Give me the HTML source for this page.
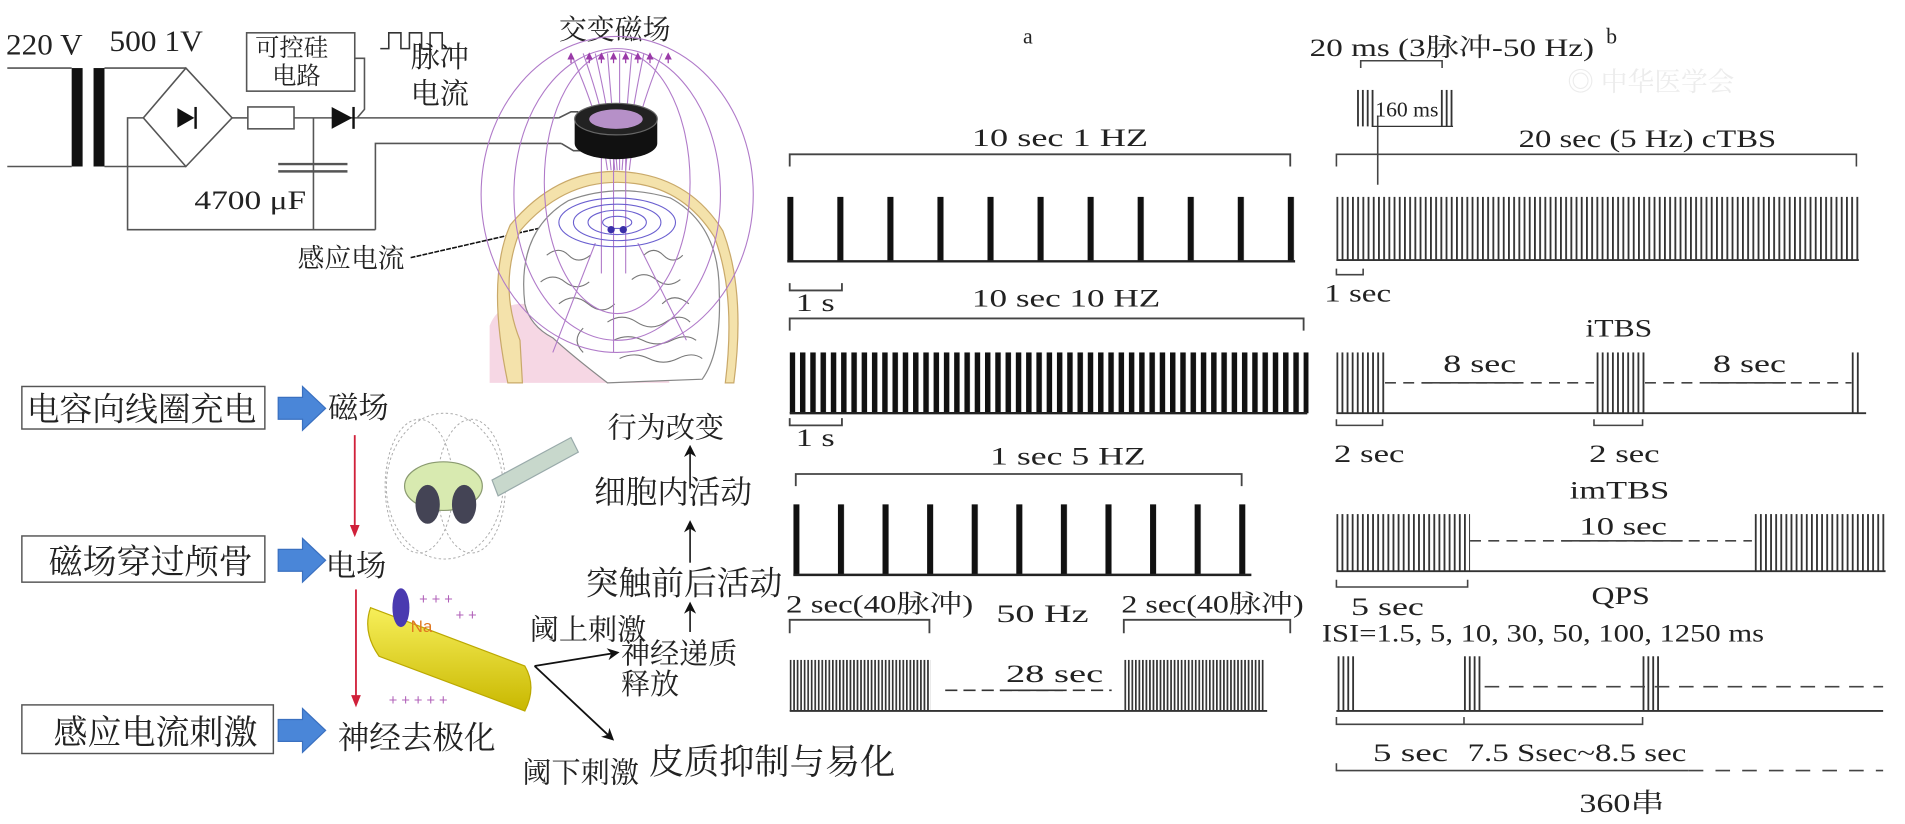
<!DOCTYPE html>
<html><head><meta charset="utf-8">
<style>
html,body{margin:0;padding:0;background:#fff;}
svg{display:block}
.s{font-family:"Liberation Serif","Noto Serif CJK SC",serif;fill:#222}
.c{font-family:"Liberation Serif","Noto Serif CJK SC",serif;fill:#222}
</style></head>
<body>
<svg width="1905" height="824" viewBox="0 0 1568 678" preserveAspectRatio="none" xmlns="http://www.w3.org/2000/svg">
<defs>
<pattern id="p1" x="648" y="0" width="41.2" height="700" patternUnits="userSpaceOnUse"><rect x="0" y="0" width="5" height="700" fill="#111"/></pattern>
<pattern id="p2" x="650" y="0" width="8.46" height="700" patternUnits="userSpaceOnUse"><rect x="0" y="0" width="4.5" height="700" fill="#111"/></pattern>
<pattern id="p3" x="653" y="0" width="36.7" height="700" patternUnits="userSpaceOnUse"><rect x="0" y="0" width="5" height="700" fill="#111"/></pattern>
<pattern id="p4" x="650" y="0" width="2.9" height="700" patternUnits="userSpaceOnUse"><rect x="0" y="0" width="1.4" height="700" fill="#333"/></pattern>
<pattern id="p5" x="1100" y="0" width="4.28" height="700" patternUnits="userSpaceOnUse"><rect x="0" y="0" width="1.5" height="700" fill="#333"/></pattern>
<pattern id="p6" x="1100" y="0" width="4.2" height="700" patternUnits="userSpaceOnUse"><rect x="0" y="0" width="1.5" height="700" fill="#333"/></pattern>
<marker id="ab" markerWidth="10" markerHeight="10" refX="8" refY="5" orient="auto" markerUnits="userSpaceOnUse"><path d="M0,0 L10,5 L0,10 L3,5 z" fill="#111"/></marker>
<marker id="ar" markerWidth="10" markerHeight="10" refX="8" refY="5" orient="auto" markerUnits="userSpaceOnUse"><path d="M0,1 L10,5 L0,9 z" fill="#d0203a"/></marker>
<marker id="am" markerWidth="6" markerHeight="6" refX="5" refY="3" orient="auto" markerUnits="userSpaceOnUse"><path d="M0,0 L6,3 L0,6 z" fill="#9a3aa8"/></marker>
<linearGradient id="yel" x1="0" y1="0" x2="0" y2="1"><stop offset="0" stop-color="#f7ef5a"/><stop offset="1" stop-color="#c9b800"/></linearGradient>
</defs>

<!-- ========== Circuit ========== -->
<g fill="none" stroke="#555" stroke-width="1.3">
<line x1="6" y1="56" x2="59" y2="56"/><line x1="6" y1="137" x2="59" y2="137"/>
<line x1="86" y1="56" x2="153" y2="56"/><line x1="86" y1="137" x2="153" y2="137"/>
<path d="M153,56 L191,97 L153,137 L118,97 Z"/>
<polyline points="118,97 105,97 105,189 309,189"/>
<line x1="191" y1="97" x2="204" y2="97"/>
<rect x="204" y="88" width="38" height="18"/>
<line x1="242" y1="97" x2="460" y2="97"/>
<line x1="258" y1="97" x2="258" y2="189"/>
<polyline points="309,189 309,118 462,118"/>
<rect x="203" y="27" width="89" height="48"/>
<polyline points="292,48 300,48 300,90 294,97"/>
<polyline points="313,40 320,40 320,27 330,27 330,40 337,40 337,27 347,27 347,40 354,40 354,27 364,27 364,40 372,40" stroke="#333"/>
<polyline points="460,97 470,92 476,92"/><polyline points="462,118 472,124 478,124"/>
</g>
<rect x="59" y="56" width="9" height="81" fill="#111"/>
<rect x="77" y="56" width="9" height="81" fill="#111"/>
<path d="M146,89 L160,97 L146,105 Z" fill="#111"/><line x1="161" y1="88" x2="161" y2="106" stroke="#111" stroke-width="2"/>
<path d="M273,88 L290,97 L273,106 Z" fill="#111"/><line x1="291" y1="88" x2="291" y2="106" stroke="#111" stroke-width="2"/>
<line x1="229" y1="135" x2="286" y2="135" stroke="#555" stroke-width="2"/>
<line x1="229" y1="141" x2="286" y2="141" stroke="#555" stroke-width="2"/>
<text class="s" x="5" y="45" font-size="24" textLength="63" lengthAdjust="spacingAndGlyphs">220 V</text>
<text class="s" x="90" y="42" font-size="24" textLength="77" lengthAdjust="spacingAndGlyphs">500 1V</text>
<text class="c" x="210" y="46" font-size="20">可控硅</text>
<text class="c" x="224" y="69" font-size="20">电路</text>
<text class="c" x="338" y="55" font-size="24">脉冲</text>
<text class="c" x="338" y="85" font-size="24">电流</text>
<text class="c" x="460" y="32" font-size="23">交变磁场</text>
<text class="s" x="160" y="172" font-size="22" textLength="92" lengthAdjust="spacingAndGlyphs">4700 μF</text>
<text class="c" x="245" y="220" font-size="22">感应电流</text>
<line x1="338" y1="212" x2="478" y2="180" stroke="#111" stroke-width="1.3" stroke-dasharray="4,1"/>

<!-- ========== Head ========== -->
<g>
<path d="M403,315 L403,268 Q410,250 430,250 L535,250 L551,315 Z" fill="#f6d7e4"/>
<path d="M418,315 Q400,230 420,185 Q458,140 508,141 Q566,143 595,190 Q614,240 604,315 L597,315 Q606,242 588,195 Q560,150 508,150 Q462,150 428,190 Q410,235 428,280 L430,315 Z" fill="#f4e2ab" stroke="#c9a96a" stroke-width="1"/>
<path d="M432,250 Q425,190 468,165 Q508,150 552,163 Q592,185 592,240 Q594,290 578,312 L500,315 Q470,292 455,278 Q436,268 432,250 Z" fill="#fff" stroke="#888" stroke-width="1"/>
<g fill="none" stroke="#777" stroke-width="0.9">
<path d="M450,210 q10,-8 18,0 t18,0"/><path d="M445,232 q10,-8 20,0 t20,0"/><path d="M460,250 q12,-10 24,0 t22,0"/>
<path d="M520,230 q10,-8 20,0 t20,0"/><path d="M530,210 q8,-8 16,0 t16,0"/><path d="M500,265 q12,-8 24,0 t24,0 t20,0"/>
<path d="M505,280 q12,-6 24,0 t24,0 t20,0"/><path d="M510,295 q12,-6 24,0 t24,0 t20,0"/>
<path d="M480,270 q-10,10 0,20"/><path d="M545,250 q10,-10 22,0"/>
</g>
<g fill="none" stroke="#b07ac9" stroke-width="0.9">
<ellipse cx="508" cy="160" rx="85" ry="120"/>
<ellipse cx="508" cy="160" rx="112" ry="130"/>
<ellipse cx="508" cy="150" rx="60" ry="108"/>
<path d="M470,44 Q495,100 500,140"/><path d="M480,44 Q500,100 503,140"/><path d="M490,44 Q503,100 506,140"/>
<path d="M500,44 L508,140"/><path d="M510,44 L510,140"/><path d="M520,44 Q515,100 512,140"/>
<path d="M530,44 Q518,100 515,140"/><path d="M545,44 Q522,100 518,140"/>
<line x1="495" y1="130" x2="495" y2="225" /><line x1="505" y1="130" x2="505" y2="290"/><line x1="515" y1="130" x2="515" y2="225"/>
<line x1="490" y1="200" x2="455" y2="290"/><line x1="525" y1="200" x2="565" y2="280"/>
</g>
<g fill="none" stroke="#6a5fd0" stroke-width="0.9">
<ellipse cx="508" cy="183" rx="48" ry="20"/><ellipse cx="508" cy="183" rx="36" ry="15"/><ellipse cx="508" cy="183" rx="24" ry="10"/><ellipse cx="508" cy="183" rx="12" ry="5"/>
</g>
<circle cx="503" cy="189" r="3" fill="#3a2fa8"/><circle cx="513" cy="189" r="3" fill="#3a2fa8"/>
<g stroke="#9a3aa8" stroke-width="1" marker-end="url(#am)">
<line x1="470" y1="52" x2="470" y2="44"/><line x1="485" y1="52" x2="485" y2="44"/><line x1="495" y1="52" x2="495" y2="44"/><line x1="505" y1="52" x2="505" y2="44"/><line x1="515" y1="52" x2="515" y2="44"/><line x1="525" y1="52" x2="525" y2="44"/><line x1="535" y1="52" x2="535" y2="44"/><line x1="550" y1="52" x2="550" y2="44"/>
</g>
<path d="M473,98 L473,118 A34,13 0 0 0 541,118 L541,98 Z" fill="#111"/>
<ellipse cx="507" cy="98" rx="34" ry="13" fill="#222" stroke="#666"/>
<ellipse cx="507" cy="98" rx="22" ry="8" fill="#b690c8"/>
</g>

<!-- ========== Lower left flow ========== -->
<g fill="#fff" stroke="#555" stroke-width="1.2">
<rect x="18" y="318" width="200" height="35"/>
<rect x="18" y="441" width="200" height="38"/>
<rect x="18" y="580" width="207" height="40"/>
</g>
<text class="c" x="22" y="346" font-size="27">电容向线圈充电</text>
<text class="c" x="40" y="472" font-size="28">磁场穿过颅骨</text>
<text class="c" x="44" y="612" font-size="28">感应电流刺激</text>
<g fill="#4a86d8" stroke="#3a70c0" stroke-width="1">
<path d="M229,327 L249,327 L249,318 L268,336 L249,354 L249,345 L229,345 Z"/>
<path d="M229,452 L249,452 L249,443 L268,461 L249,479 L249,470 L229,470 Z"/>
<path d="M229,592 L249,592 L249,583 L268,601 L249,619 L249,610 L229,610 Z"/>
</g>
<text class="c" x="270" y="344" font-size="25">磁场</text>
<text class="c" x="268" y="474" font-size="25">电场</text>
<text class="c" x="278" y="616" font-size="26">神经去极化</text>
<line x1="292" y1="358" x2="292" y2="440" stroke="#d0203a" stroke-width="1.5" marker-end="url(#ar)"/>
<line x1="293" y1="485" x2="293" y2="580" stroke="#d0203a" stroke-width="1.5" marker-end="url(#ar)"/>
<!-- coil picture -->
<g fill="none" stroke="#aaa" stroke-width="0.8" stroke-dasharray="2,2">
<ellipse cx="345" cy="400" rx="28" ry="55"/><ellipse cx="388" cy="400" rx="28" ry="55"/><ellipse cx="366" cy="400" rx="48" ry="60"/>
</g>
<path d="M405,395 L470,360 L476,372 L410,408 Z" fill="#c8d8cc" stroke="#9aa" stroke-width="1"/>
<ellipse cx="365" cy="400" rx="32" ry="20" fill="#d8eab0" stroke="#8a9a70"/>
<ellipse cx="352" cy="415" rx="10" ry="16" fill="#445"/><ellipse cx="382" cy="415" rx="10" ry="16" fill="#445"/>
<!-- axon -->
<g fill="#b060b8" font-size="12" font-family="Liberation Sans,sans-serif"><text x="345" y="497">+ + +</text><text x="375" y="510">+ +</text><text x="320" y="580">+ + + + +</text></g>
<path d="M305,500 L432,548 Q442,565 432,585 L312,540 Q298,520 305,500 Z" fill="url(#yel)" stroke="#bba800"/>
<ellipse cx="330" cy="500" rx="7" ry="16" fill="#4a3ab0"/>
<text x="338" y="520" font-size="14" fill="#e07820" font-family="Liberation Sans,sans-serif">Na</text>
<line x1="440" y1="548" x2="508" y2="537" stroke="#111" stroke-width="1.5" marker-end="url(#ab)"/>
<line x1="440" y1="548" x2="504" y2="608" stroke="#111" stroke-width="1.5" marker-end="url(#ab)"/>
<text class="c" x="500" y="360" font-size="24">行为改变</text>
<text class="c" x="489" y="414" font-size="26">细胞内活动</text>
<text class="c" x="482" y="489" font-size="27">突触前后活动</text>
<text class="c" x="436" y="526" font-size="24">阈上刺激</text>
<text class="c" x="511" y="546" font-size="24">神经递质</text>
<text class="c" x="511" y="571" font-size="24">释放</text>
<text class="c" x="430" y="644" font-size="24">阈下刺激</text>
<text class="c" x="534" y="637" font-size="29">皮质抑制与易化</text>
<g stroke="#111" stroke-width="1.3" marker-end="url(#ab)">
<line x1="568" y1="402" x2="568" y2="368"/>
<line x1="568" y1="463" x2="568" y2="430"/>
<line x1="568" y1="520" x2="568" y2="497"/>
</g>

<!-- ========== Panel a ========== -->
<text class="s" x="842" y="36" font-size="18">a</text>
<g fill="none" stroke="#444" stroke-width="1.5">
<polyline points="650,137 650,127 1062,127 1062,137"/>
<polyline points="650,233 650,239 693,239 693,233"/>
<polyline points="650,272 650,262 1073,262 1073,272"/>
<polyline points="650,344 650,350 693,350 693,344"/>
<polyline points="655,400 655,390 1022,390 1022,400"/>
<polyline points="650,521 650,510 765,510 765,521"/>
<polyline points="925,521 925,510 1062,510 1062,521"/>
</g>
<text class="s" x="800" y="120" font-size="21" textLength="145" lengthAdjust="spacingAndGlyphs">10 sec    1 HZ</text>
<text class="s" x="655" y="256" font-size="21" textLength="32" lengthAdjust="spacingAndGlyphs">1 s</text>
<text class="s" x="800" y="252" font-size="21" textLength="155" lengthAdjust="spacingAndGlyphs">10 sec    10 HZ</text>
<text class="s" x="655" y="367" font-size="21" textLength="32" lengthAdjust="spacingAndGlyphs">1 s</text>
<text class="s" x="815" y="382" font-size="21" textLength="128" lengthAdjust="spacingAndGlyphs">1 sec    5 HZ</text>
<text class="c" x="647" y="504" font-size="21" textLength="154" lengthAdjust="spacingAndGlyphs">2 sec(40脉冲)</text>
<text class="s" x="820" y="512" font-size="21" textLength="76" lengthAdjust="spacingAndGlyphs">50 Hz</text>
<text class="c" x="923" y="504" font-size="21" textLength="150" lengthAdjust="spacingAndGlyphs">2 sec(40脉冲)</text>
<text class="s" x="828" y="561" font-size="21" textLength="80" lengthAdjust="spacingAndGlyphs">28 sec</text>
<rect x="648" y="162" width="419" height="53" fill="url(#p1)"/>
<line x1="648" y1="215" x2="1066" y2="215" stroke="#222" stroke-width="2"/>
<rect x="650" y="290" width="427" height="50" fill="url(#p2)"/>
<line x1="650" y1="340" x2="1076" y2="340" stroke="#222" stroke-width="2"/>
<rect x="653" y="415" width="373" height="58" fill="url(#p3)"/>
<line x1="653" y1="473" x2="1030" y2="473" stroke="#222" stroke-width="2"/>
<rect x="650" y="543" width="116" height="42" fill="url(#p4)"/>
<rect x="925" y="543" width="116" height="42" fill="url(#p4)"/>
<line x1="650" y1="585" x2="1043" y2="585" stroke="#333" stroke-width="1.5"/>
<line x1="778" y1="568" x2="915" y2="568" stroke="#333" stroke-width="1.3" stroke-dasharray="10,5"/>
<line x1="823" y1="568" x2="875" y2="568" stroke="#333" stroke-width="1.3"/>

<!-- ========== Panel b ========== -->
<text class="s" x="1322" y="36" font-size="18">b</text>
<text class="c" x="1078" y="46" font-size="21" textLength="234" lengthAdjust="spacingAndGlyphs">20 ms  (3脉冲-50 Hz)</text>
<text x="1290" y="75" font-size="22" fill="#ececec" font-family="Noto Serif CJK SC,serif">◎  中华医学会</text>
<g fill="none" stroke="#444" stroke-width="1.3">
<polyline points="1120,56 1120,50 1187,50 1187,56"/>
<line x1="1134" y1="95" x2="1134" y2="152"/>
<polyline points="1100,137 1100,127 1528,127 1528,137"/>
<polyline points="1100,221 1100,226 1122,226 1122,221"/>
<polyline points="1100,345 1100,350 1138,350 1138,345"/>
<polyline points="1312,345 1312,350 1352,350 1352,345"/>
<polyline points="1100,477 1100,483 1208,483 1208,477"/>
<polyline points="1100,590 1100,596 1352,596 1352,590"/>
<line x1="1205" y1="590" x2="1205" y2="596"/>
<polyline points="1100,628 1100,634 1390,634"/>
</g>
<line x1="1390" y1="634" x2="1550" y2="634" stroke="#444" stroke-width="1.3" stroke-dasharray="12,10"/>
<g fill="#333">
<rect x="1117" y="74" width="1.5" height="30"/><rect x="1121" y="74" width="1.5" height="30"/><rect x="1125" y="74" width="1.5" height="30"/><rect x="1129" y="74" width="1.5" height="30"/>
<rect x="1186" y="74" width="1.5" height="30"/><rect x="1190" y="74" width="1.5" height="30"/><rect x="1194" y="74" width="1.5" height="30"/>
</g>
<line x1="1129" y1="104" x2="1196" y2="104" stroke="#333" stroke-width="1"/>
<text class="s" x="1132" y="96" font-size="17" textLength="52" lengthAdjust="spacingAndGlyphs">160 ms</text>
<text class="s" x="1250" y="121" font-size="21" textLength="212" lengthAdjust="spacingAndGlyphs">20 sec (5 Hz)  cTBS</text>
<rect x="1100" y="162" width="430" height="52" fill="url(#p5)"/>
<line x1="1100" y1="214" x2="1530" y2="214" stroke="#333" stroke-width="1.5"/>
<text class="s" x="1090" y="248" font-size="21" textLength="55" lengthAdjust="spacingAndGlyphs">1 sec</text>
<text class="s" x="1305" y="277" font-size="21" textLength="55" lengthAdjust="spacingAndGlyphs">iTBS</text>
<rect x="1100" y="290" width="40" height="50" fill="url(#p6)"/>
<rect x="1312" y="290" width="42" height="50" fill="url(#p6)"/>
<rect x="1524" y="290" width="8" height="50" fill="url(#p6)"/>
<line x1="1100" y1="340" x2="1536" y2="340" stroke="#333" stroke-width="1.5"/>
<line x1="1140" y1="315" x2="1312" y2="315" stroke="#444" stroke-width="1.3" stroke-dasharray="9,6"/>
<line x1="1354" y1="315" x2="1524" y2="315" stroke="#444" stroke-width="1.3" stroke-dasharray="9,6"/>
<line x1="1170" y1="315" x2="1250" y2="315" stroke="#444" stroke-width="1.3"/>
<line x1="1408" y1="315" x2="1470" y2="315" stroke="#444" stroke-width="1.3"/>
<text class="s" x="1188" y="306" font-size="21" textLength="60" lengthAdjust="spacingAndGlyphs">8 sec</text>
<text class="s" x="1410" y="306" font-size="21" textLength="60" lengthAdjust="spacingAndGlyphs">8 sec</text>
<text class="s" x="1098" y="380" font-size="21" textLength="58" lengthAdjust="spacingAndGlyphs">2 sec</text>
<text class="s" x="1308" y="380" font-size="21" textLength="58" lengthAdjust="spacingAndGlyphs">2 sec</text>
<text class="s" x="1292" y="410" font-size="21" textLength="82" lengthAdjust="spacingAndGlyphs">imTBS</text>
<rect x="1100" y="423" width="110" height="47" fill="url(#p6)"/>
<rect x="1442" y="423" width="110" height="47" fill="url(#p6)"/>
<line x1="1100" y1="470" x2="1552" y2="470" stroke="#333" stroke-width="1.5"/>
<line x1="1210" y1="445" x2="1442" y2="445" stroke="#444" stroke-width="1.3" stroke-dasharray="9,6"/>
<line x1="1285" y1="445" x2="1385" y2="445" stroke="#444" stroke-width="1.3"/>
<text class="s" x="1300" y="440" font-size="21" textLength="72" lengthAdjust="spacingAndGlyphs">10 sec</text>
<text class="s" x="1112" y="506" font-size="21" textLength="60" lengthAdjust="spacingAndGlyphs">5 sec</text>
<text class="s" x="1310" y="497" font-size="21" textLength="48" lengthAdjust="spacingAndGlyphs">QPS</text>
<text class="s" x="1088" y="528" font-size="21" textLength="364" lengthAdjust="spacingAndGlyphs">ISI=1.5, 5, 10, 30, 50, 100, 1250 ms</text>
<g fill="#333">
<rect x="1101" y="540" width="1.5" height="45"/><rect x="1105" y="540" width="1.5" height="45"/><rect x="1109" y="540" width="1.5" height="45"/><rect x="1113" y="540" width="1.5" height="45"/>
<rect x="1205" y="540" width="1.5" height="45"/><rect x="1209" y="540" width="1.5" height="45"/><rect x="1213" y="540" width="1.5" height="45"/><rect x="1217" y="540" width="1.5" height="45"/>
<rect x="1352" y="540" width="1.5" height="45"/><rect x="1356" y="540" width="1.5" height="45"/><rect x="1360" y="540" width="1.5" height="45"/><rect x="1364" y="540" width="1.5" height="45"/>
</g>
<line x1="1100" y1="585" x2="1550" y2="585" stroke="#333" stroke-width="1.5"/>
<line x1="1222" y1="565" x2="1550" y2="565" stroke="#444" stroke-width="1.3" stroke-dasharray="12,8"/>
<text class="s" x="1130" y="626" font-size="21" textLength="62" lengthAdjust="spacingAndGlyphs">5 sec</text>
<text class="s" x="1208" y="626" font-size="21" textLength="180" lengthAdjust="spacingAndGlyphs">7.5 Ssec~8.5 sec</text>
<text class="c" x="1300" y="668" font-size="22" textLength="70" lengthAdjust="spacingAndGlyphs">360串</text>
</svg>
</body></html>
